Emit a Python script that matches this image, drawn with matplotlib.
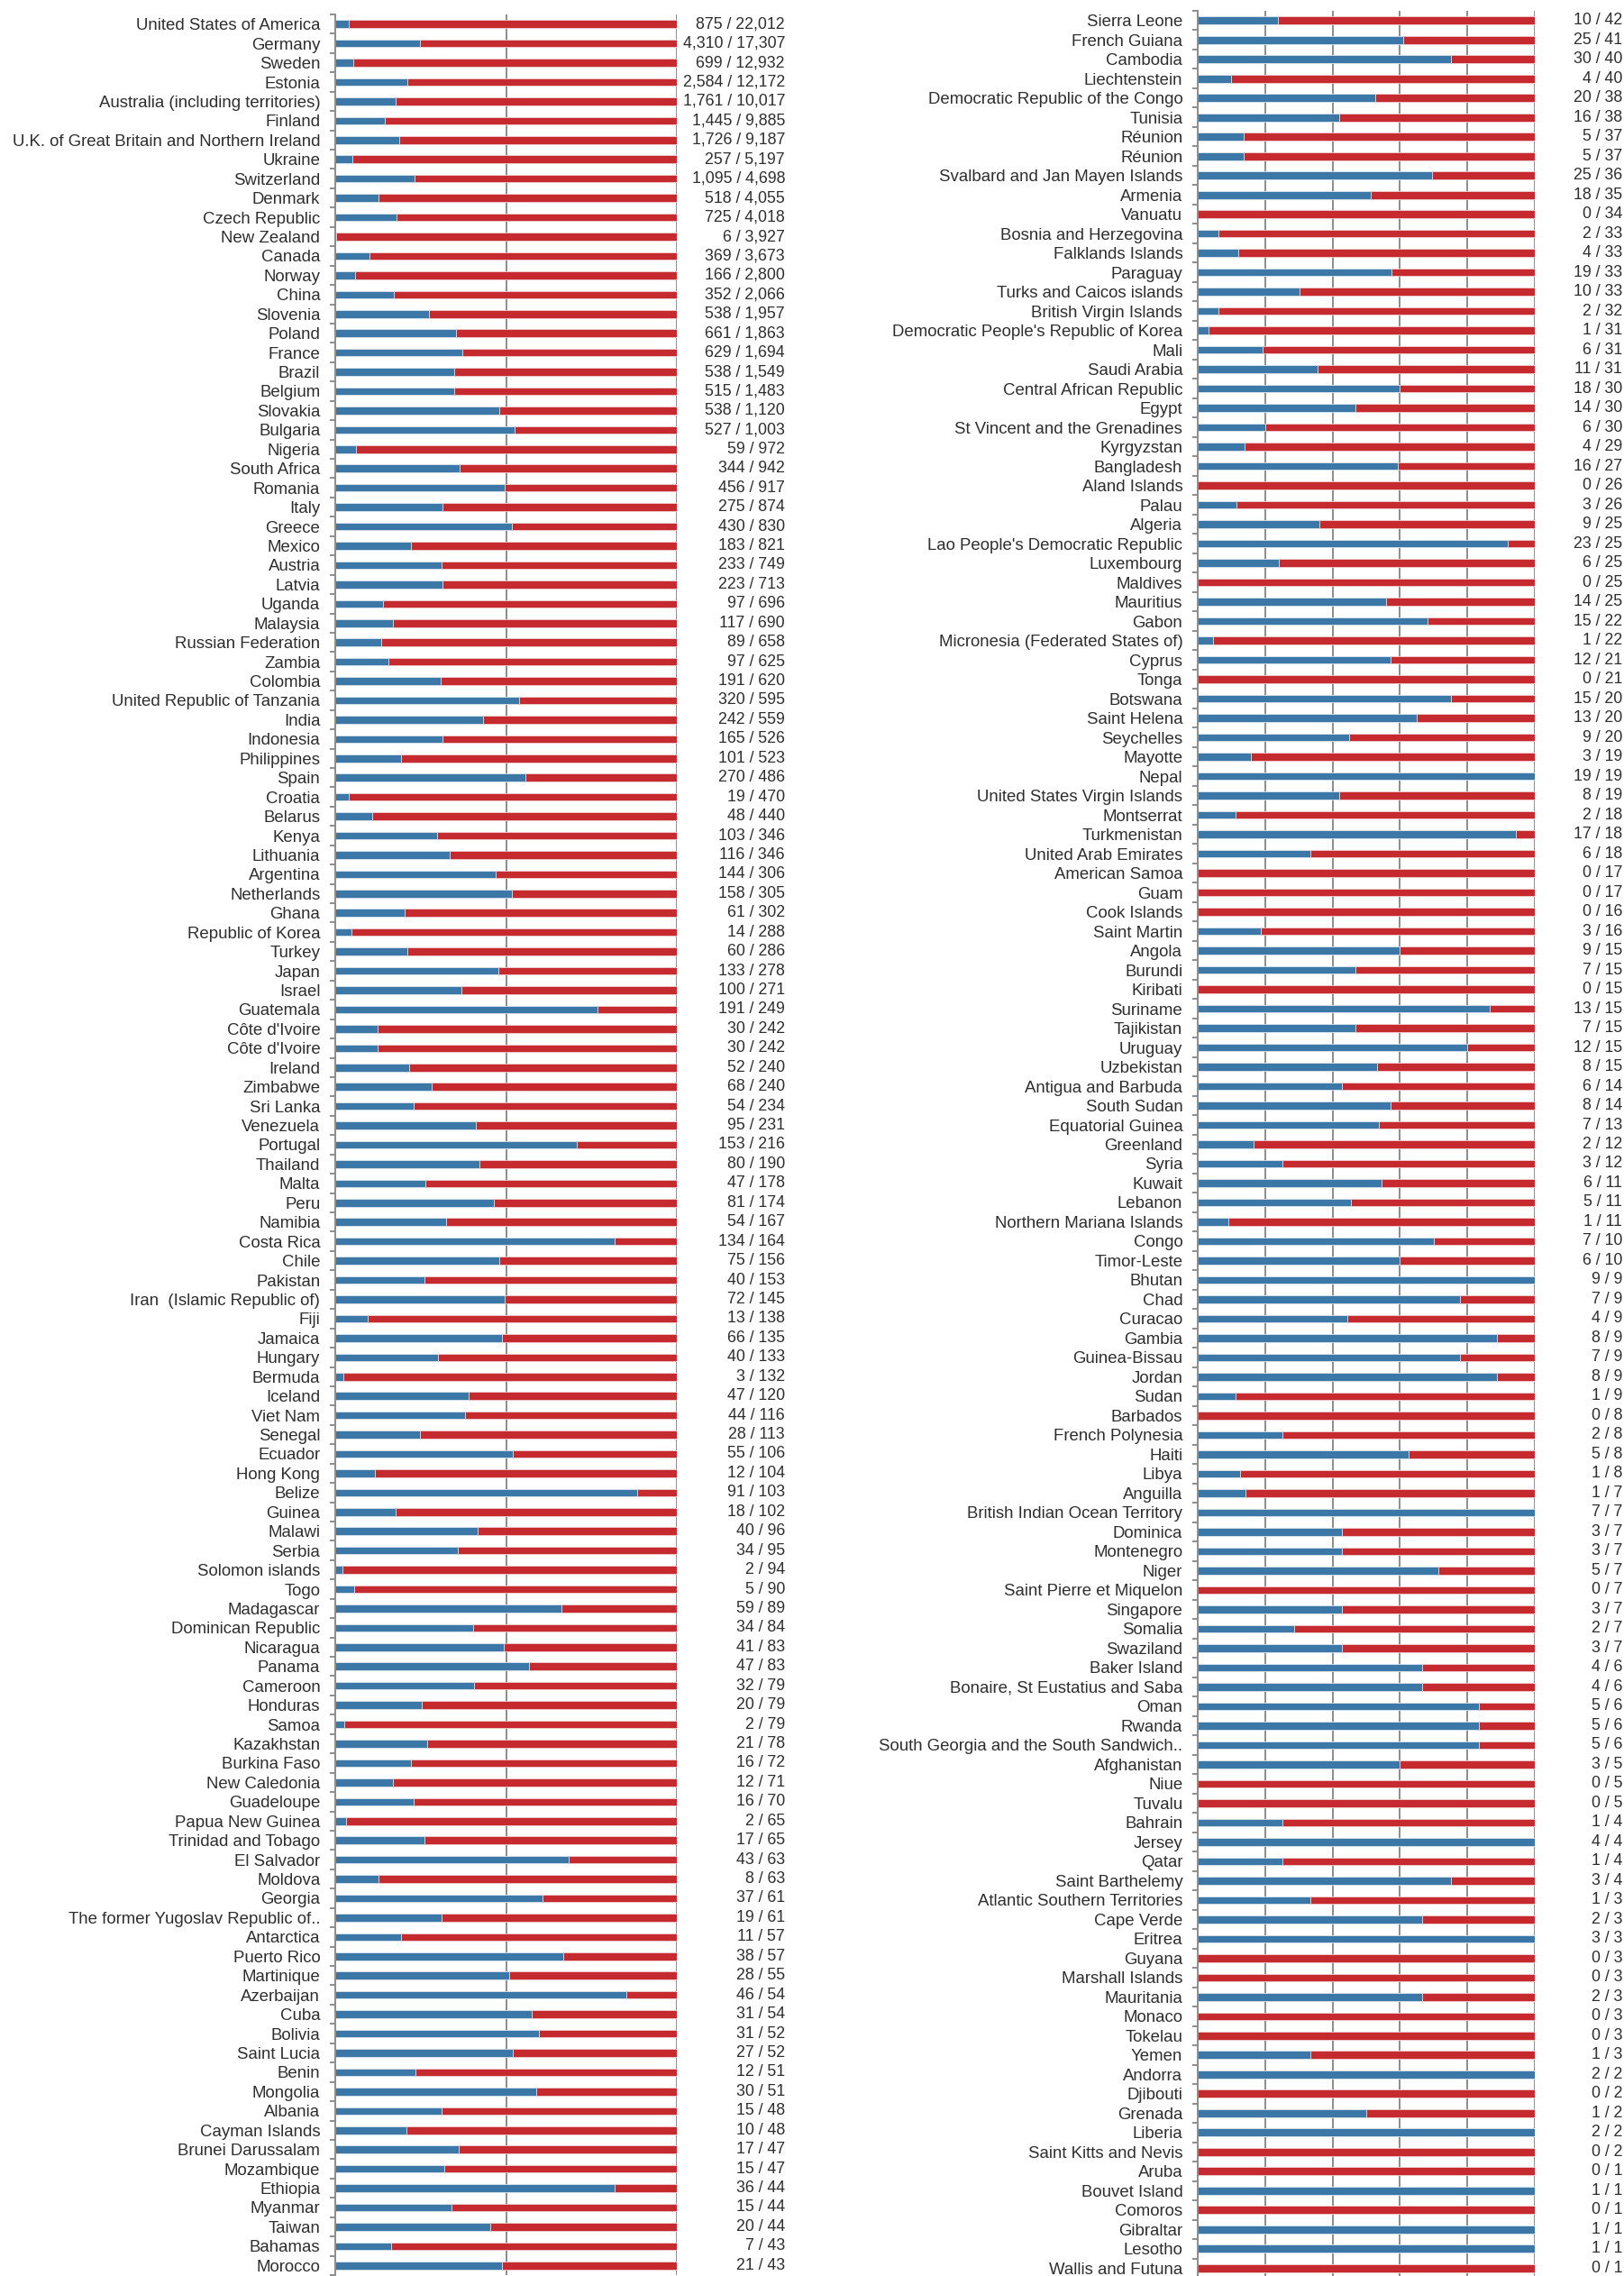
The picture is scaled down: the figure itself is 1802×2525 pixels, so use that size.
import numpy as np
import matplotlib
matplotlib.use('Agg')
import matplotlib.pyplot as plt
import matplotlib.transforms as mtransforms

plt.rcParams['font.family'] = ['Liberation Sans', 'DejaVu Sans']

# left column
left_names = [
    "United States of America", "Germany", "Sweden", "Estonia",
    "Australia (including territories)", "Finland",
    "U.K. of Great Britain and Northern Ireland", "Ukraine", "Switzerland",
    "Denmark", "Czech Republic", "New Zealand", "Canada", "Norway", "China",
    "Slovenia", "Poland", "France", "Brazil", "Belgium", "Slovakia", "Bulgaria",
    "Nigeria", "South Africa", "Romania", "Italy", "Greece", "Mexico", "Austria",
    "Latvia", "Uganda", "Malaysia", "Russian Federation", "Zambia", "Colombia",
    "United Republic of Tanzania", "India", "Indonesia", "Philippines", "Spain",
    "Croatia", "Belarus", "Kenya", "Lithuania", "Argentina", "Netherlands",
    "Ghana", "Republic of Korea", "Turkey", "Japan", "Israel", "Guatemala",
    "Côte d'Ivoire", "Côte d'Ivoire", "Ireland", "Zimbabwe", "Sri Lanka",
    "Venezuela", "Portugal", "Thailand", "Malta", "Peru", "Namibia",
    "Costa Rica", "Chile", "Pakistan", "Iran  (Islamic Republic of)", "Fiji",
    "Jamaica", "Hungary", "Bermuda", "Iceland", "Viet Nam", "Senegal",
    "Ecuador", "Hong Kong", "Belize", "Guinea", "Malawi", "Serbia",
    "Solomon islands", "Togo", "Madagascar", "Dominican Republic", "Nicaragua",
    "Panama", "Cameroon", "Honduras", "Samoa", "Kazakhstan", "Burkina Faso",
    "New Caledonia", "Guadeloupe", "Papua New Guinea", "Trinidad and Tobago",
    "El Salvador", "Moldova", "Georgia", "The former Yugoslav Republic of..",
    "Antarctica", "Puerto Rico", "Martinique", "Azerbaijan", "Cuba", "Bolivia",
    "Saint Lucia", "Benin", "Mongolia", "Albania", "Cayman Islands",
    "Brunei Darussalam", "Mozambique", "Ethiopia", "Myanmar", "Taiwan",
    "Bahamas", "Morocco",
]
left_part = [
    875, 4310, 699, 2584, 1761, 1445, 1726, 257, 1095, 518, 725, 6, 369, 166,
    352, 538, 661, 629, 538, 515, 538, 527, 59, 344, 456, 275, 430, 183, 233,
    223, 97, 117, 89, 97, 191, 320, 242, 165, 101, 270, 19, 48, 103, 116, 144,
    158, 61, 14, 60, 133, 100, 191, 30, 30, 52, 68, 54, 95, 153, 80, 47, 81,
    54, 134, 75, 40, 72, 13, 66, 40, 3, 47, 44, 28, 55, 12, 91, 18, 40, 34, 2,
    5, 59, 34, 41, 47, 32, 20, 2, 21, 16, 12, 16, 2, 17, 43, 8, 37, 19, 11, 38,
    28, 46, 31, 31, 27, 12, 30, 15, 10, 17, 15, 36, 15, 20, 7, 21,
]
left_total = [
    22012, 17307, 12932, 12172, 10017, 9885, 9187, 5197, 4698, 4055, 4018,
    3927, 3673, 2800, 2066, 1957, 1863, 1694, 1549, 1483, 1120, 1003, 972, 942,
    917, 874, 830, 821, 749, 713, 696, 690, 658, 625, 620, 595, 559, 526, 523,
    486, 470, 440, 346, 346, 306, 305, 302, 288, 286, 278, 271, 249, 242, 242,
    240, 240, 234, 231, 216, 190, 178, 174, 167, 164, 156, 153, 145, 138, 135,
    133, 132, 120, 116, 113, 106, 104, 103, 102, 96, 95, 94, 90, 89, 84, 83,
    83, 79, 79, 79, 78, 72, 71, 70, 65, 65, 63, 63, 61, 61, 57, 57, 55, 54, 54,
    52, 52, 51, 51, 48, 48, 47, 47, 44, 44, 44, 43, 43,
]

# right column
right_names = [
    "Sierra Leone", "French Guiana", "Cambodia", "Liechtenstein",
    "Democratic Republic of the Congo", "Tunisia", "Réunion", "Réunion",
    "Svalbard and Jan Mayen Islands", "Armenia", "Vanuatu",
    "Bosnia and Herzegovina", "Falklands Islands", "Paraguay",
    "Turks and Caicos islands", "British Virgin Islands",
    "Democratic People's Republic of Korea", "Mali", "Saudi Arabia",
    "Central African Republic", "Egypt", "St Vincent and the Grenadines",
    "Kyrgyzstan", "Bangladesh", "Aland Islands", "Palau", "Algeria",
    "Lao People's Democratic Republic", "Luxembourg", "Maldives", "Mauritius",
    "Gabon", "Micronesia (Federated States of)", "Cyprus", "Tonga", "Botswana",
    "Saint Helena", "Seychelles", "Mayotte", "Nepal",
    "United States Virgin Islands", "Montserrat", "Turkmenistan",
    "United Arab Emirates", "American Samoa", "Guam", "Cook Islands",
    "Saint Martin", "Angola", "Burundi", "Kiribati", "Suriname", "Tajikistan",
    "Uruguay", "Uzbekistan", "Antigua and Barbuda", "South Sudan",
    "Equatorial Guinea", "Greenland", "Syria", "Kuwait", "Lebanon",
    "Northern Mariana Islands", "Congo", "Timor-Leste", "Bhutan", "Chad",
    "Curacao", "Gambia", "Guinea-Bissau", "Jordan", "Sudan", "Barbados",
    "French Polynesia", "Haiti", "Libya", "Anguilla",
    "British Indian Ocean Territory", "Dominica", "Montenegro", "Niger",
    "Saint Pierre et Miquelon", "Singapore", "Somalia", "Swaziland",
    "Baker Island", "Bonaire, St Eustatius and Saba", "Oman", "Rwanda",
    "South Georgia and the South Sandwich..", "Afghanistan", "Niue", "Tuvalu",
    "Bahrain", "Jersey", "Qatar", "Saint Barthelemy",
    "Atlantic Southern Territories", "Cape Verde", "Eritrea", "Guyana",
    "Marshall Islands", "Mauritania", "Monaco", "Tokelau", "Yemen", "Andorra",
    "Djibouti", "Grenada", "Liberia", "Saint Kitts and Nevis", "Aruba",
    "Bouvet Island", "Comoros", "Gibraltar", "Lesotho", "Wallis and Futuna",
]
right_part = [
    10, 25, 30, 4, 20, 16, 5, 5, 25, 18, 0, 2, 4, 19, 10, 2, 1, 6, 11, 18, 14,
    6, 4, 16, 0, 3, 9, 23, 6, 0, 14, 15, 1, 12, 0, 15, 13, 9, 3, 19, 8, 2, 17,
    6, 0, 0, 0, 3, 9, 7, 0, 13, 7, 12, 8, 6, 8, 7, 2, 3, 6, 5, 1, 7, 6, 9, 7,
    4, 8, 7, 8, 1, 0, 2, 5, 1, 1, 7, 3, 3, 5, 0, 3, 2, 3, 4, 4, 5, 5, 5, 3, 0,
    0, 1, 4, 1, 3, 1, 2, 3, 0, 0, 2, 0, 0, 1, 2, 0, 1, 2, 0, 0, 1, 0, 1, 1, 0,
]
right_total = [
    42, 41, 40, 40, 38, 38, 37, 37, 36, 35, 34, 33, 33, 33, 33, 32, 31, 31, 31,
    30, 30, 30, 29, 27, 26, 26, 25, 25, 25, 25, 25, 22, 22, 21, 21, 20, 20, 20,
    19, 19, 19, 18, 18, 18, 17, 17, 16, 16, 15, 15, 15, 15, 15, 15, 15, 14, 14,
    13, 12, 12, 11, 11, 11, 10, 10, 9, 9, 9, 9, 9, 9, 9, 8, 8, 8, 8, 7, 7, 7,
    7, 7, 7, 7, 7, 7, 6, 6, 6, 6, 6, 5, 5, 5, 4, 4, 4, 4, 3, 3, 3, 3, 3, 3, 3,
    3, 3, 2, 2, 2, 2, 2, 1, 1, 1, 1, 1, 1,
]

blue = '#3b77a7'
red = '#c42a2e'
grid_color = '#8c8c8c'
text_color = '#2e2e2e'
label_fs = 13.4
value_fs = 12.8

W, H = 1802, 2525
fig = plt.figure(figsize=(W / 100, H / 100), dpi=100)


def panel(box, names, part, total, grid_x, value_x):
    x0, x1, top, bottom = box
    ax = fig.add_axes([x0 / W, 1 - bottom / H, (x1 - x0) / W, (bottom - top) / H])
    n = len(names)
    y = np.arange(n)
    frac = np.array(part) / np.array(total)
    ax.barh(y, frac, height=0.4, color=blue, edgecolor='#dbe6ef', linewidth=0.6)
    ax.barh(y, 1 - frac, left=frac, height=0.4, color=red, edgecolor='#f0cfcf', linewidth=0.6)
    for g in grid_x:
        ax.axvline(g, color=grid_color, lw=1.4, zorder=0)
    ax.set_xlim(0, 1)
    ax.set_ylim(n - 0.5, -0.5)
    ax.set_xticks([])
    ax.set_yticks(y)
    ax.set_yticklabels(names, fontsize=label_fs, color=text_color)
    ax.tick_params(axis='y', which='major', length=0, pad=12)
    ax.set_yticks(np.arange(n + 1) - 0.5, minor=True)
    ax.tick_params(axis='y', which='minor', length=4, color=grid_color, width=1.4)
    for s in ['top', 'right', 'bottom']:
        ax.spines[s].set_visible(False)
    ax.spines['left'].set_color(grid_color)
    ax.spines['left'].set_linewidth(1.4)
    tr = mtransforms.blended_transform_factory(fig.transFigure, ax.transData)
    for i in range(n):
        ax.text(value_x / W, i, f"{part[i]:,} / {total[i]:,}", transform=tr,
                ha='right', va='center', fontsize=value_fs, color=text_color)
    return ax


panel((372, 751, 16, 2524), left_names, left_part, left_total, [0.5, 1.0], 871)
panel((1329, 1703, 12, 2527), right_names, right_part, right_total,
      [0.2, 0.4, 0.6, 0.8, 1.0], 1800)

fig.savefig('out.png', dpi=100, facecolor='white')
